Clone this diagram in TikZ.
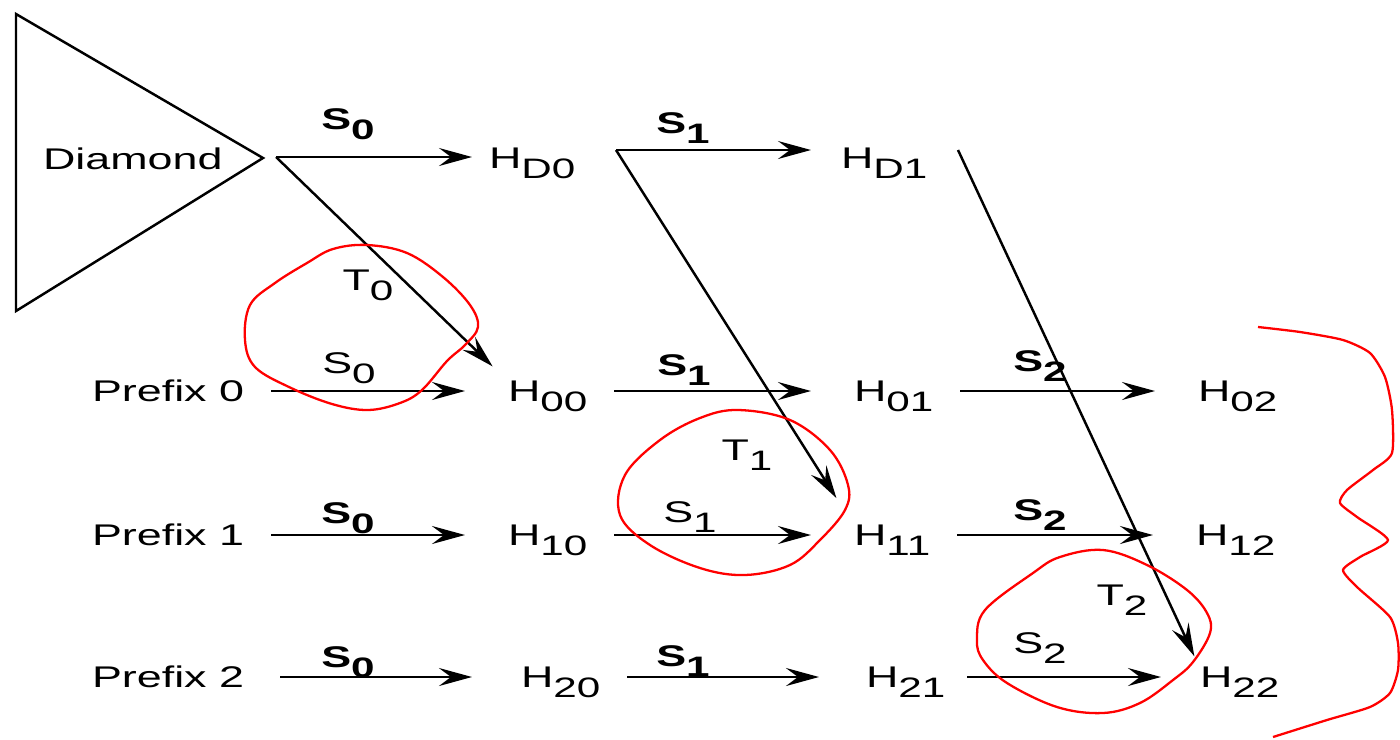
\documentclass[tikz,border=0pt]{standalone}
\usepackage{fontspec}
\setmainfont{Liberation Sans}
\usetikzlibrary{arrows.meta}

% letter with a full-size, lowered index
\newcommand{\idx}[2]{#1\raisebox{-3.1pt}{\fontsize{8}{8}\selectfont #2}}

\tikzset{
    % Base text style, stretched wide like the scan
    lbl/.style={
        font=\fontsize{8.5}{10}\selectfont,
        inner sep=0pt,
        xscale=1.5,
        text height=0.2cm,
        text depth=0pt,
    },
    % Hash states and row heads
    hstate/.style={lbl, anchor=west},
    % Transition labels (S and T)
    trans/.style={lbl, anchor=base},
    % Arrow between states
    hop/.style={
        -{Stealth[length=3.3mm, width=1.8mm, inset=1.2mm]},
        line width=0.7pt,
        shorten <=0.26cm,
        shorten >=0.42cm,
    },
    % Diagonal T arrows
    diag/.style={hop, shorten <=0pt},
    % Red hand marks
    redpen/.style={draw=red, line width=0.65pt, line join=round},
}

\begin{document}
\begin{tikzpicture}[x=0.01cm, y=-0.01cm]
    \useasboundingbox (0,0) rectangle (1400,739);

    % diamond block
    \draw[line width=0.7pt] (16,14) -- (263,158) -- (16,311) -- cycle;
    \node[lbl, anchor=base west] (diamond) at (42,169) {Diamond};

    % states
    \node[hstate] (hd0) at (488,158) {\idx{H}{D0}};
    \node[hstate] (hd1) at (840,158) {\idx{H}{D1}};
    \node[hstate] (p0)  at (91,391)  {Prefix 0};
    \node[hstate] (h00) at (507,391) {\idx{H}{00}};
    \node[hstate] (h01) at (853,391) {\idx{H}{01}};
    \node[hstate] (h02) at (1197,391) {\idx{H}{02}};
    \node[hstate] (p1)  at (91,535)  {Prefix 1};
    \node[hstate] (h10) at (507,535) {\idx{H}{10}};
    \node[hstate] (h11) at (853,535) {\idx{H}{11}};
    \node[hstate] (h12) at (1195,535) {\idx{H}{12}};
    \node[hstate] (p2)  at (91,677)  {Prefix 2};
    \node[hstate] (h20) at (520,677) {\idx{H}{20}};
    \node[hstate] (h21) at (865,677) {\idx{H}{21}};
    \node[hstate] (h22) at (1199,677) {\idx{H}{22}};

    % tails shared by S and T arrows
    \coordinate (fork0) at (276,157);
    \coordinate (fork1) at (616,150);
    \coordinate (fork2) at (958,150);

    % top row
    \draw[hop, shorten <=0pt, shorten >=0.16cm] (fork0) -- (fork0 -| hd0.west);
    \draw[hop, shorten <=0pt, shorten >=0.29cm] (fork1) -- (fork1 -| hd1.west);

    % T arrows
    \draw[diag, shorten >=0.2cm] (fork0) -- (h00.north west);
    \draw[diag, shorten >=0.31cm] (fork1) -- (h11.north west);
    \draw[diag, shorten >=0.11cm] (fork2) -- (h22.north west);

    % prefix rows
    \draw[hop] (p0) -- (h00);
    \draw[hop] (h00) -- (h01);
    \draw[hop] (h01) -- (h02);
    \draw[hop] (p1) -- (h10);
    \draw[hop] (h10) -- (h11);
    \draw[hop] (h11) -- (h12);
    \draw[hop, shorten <=0.35cm, shorten >=0.48cm] (p2) -- (h20);
    \draw[hop, shorten >=0.46cm] (h20) -- (h21);
    \draw[hop, shorten <=0.21cm, shorten >=0.38cm] (h21) -- (h22);

    % labels
    \node[trans] (ld0) at (348,129) {\textbf{\idx{S}{0}}};
    \node[trans] (ld1) at (683,133) {\textbf{\idx{S}{1}}};
    \node[trans] (t0)  at (368,290) {\idx{T}{0}};
    \node[trans] (t1)  at (747,460) {\idx{T}{1}};
    \node[trans] (t2)  at (1122,605) {\idx{T}{2}};
    \node[trans] (l00) at (349,373) {\idx{S}{0}};
    \node[trans] (l01) at (684,375) {\textbf{\idx{S}{1}}};
    \node[trans] (l02) at (1040,371) {\textbf{\idx{S}{2}}};
    \node[trans] (l10) at (348,523) {\textbf{\idx{S}{0}}};
    \node[trans] (l11) at (690,522) {\idx{S}{1}};
    \node[trans] (l12) at (1040,520) {\textbf{\idx{S}{2}}};
    \node[trans] (l20) at (348,667) {\textbf{\idx{S}{0}}};
    \node[trans] (l21) at (683,666) {\textbf{\idx{S}{1}}};
    \node[trans] (l22) at (1040,653) {\idx{S}{2}};

    % red hand marks
    \draw[redpen] plot[smooth cycle, tension=0.6] coordinates {
        (367,245) (407,253) (443,277) (470,305) (478,327) (465,345)
        (447,361) (422,390) (400,403) (368,410) (332,404) (289,387)
        (255,367) (245,340) (250,305) (275,283) (307,263) (333,249)};
    \draw[redpen] plot[smooth cycle, tension=0.6] coordinates {
        (738,410) (790,420) (830,450) (848,485) (845,510) (820,540)
        (790,565) (745,575) (700,568) (650,545) (620,515) (625,475)
        (660,440) (700,418)};
    \draw[redpen] plot[smooth cycle, tension=0.6] coordinates {
        (1103,550) (1147,565) (1187,590) (1207,613) (1210,633) (1193,662)
        (1173,680) (1140,703) (1103,713) (1057,707) (1007,683) (983,660)
        (977,640) (985,610) (1033,573) (1060,557)};
    \draw[redpen] plot[smooth, tension=0.4] coordinates {
        (1258,327) (1300,332) (1343,340) (1370,353) (1385,377) (1392,410)
        (1392,453) (1373,470) (1347,490) (1340,503) (1357,517) (1388,540)
        (1360,557) (1343,570) (1357,587) (1390,617) (1398,643) (1398,670)
        (1390,693) (1370,707) (1327,720) (1273,737)};
\end{tikzpicture}
\end{document}
